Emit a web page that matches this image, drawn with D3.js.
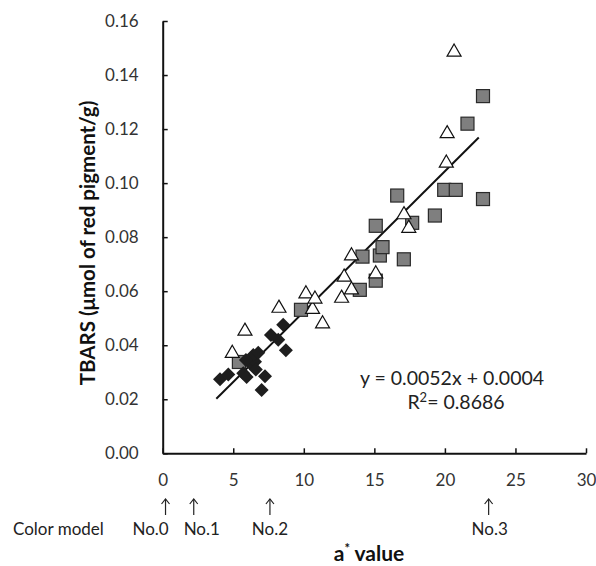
<!DOCTYPE html>
<html>
<head>
<meta charset="utf-8">
<script src="https://cdn.jsdelivr.net/npm/d3@7/dist/d3.min.js"></script>
<style>
  body { margin: 0; background: #fff; }
  svg text { font-family: Lato, "Open Sans", sans-serif; }
</style>
</head>
<body>
<script>
'use strict';

// diamonds (dark)
const diamondX = [4.06, 4.65, 5.71, 5.95, 6.18, 6.54, 6.42, 6.77, 7.25, 7.01, 7.67, 8.19, 8.54, 8.73, 5.9, 6.6];
const diamondY = [0.0274, 0.0292, 0.0296, 0.0282, 0.0333, 0.0339, 0.0364, 0.0372, 0.0285, 0.0234, 0.0438, 0.0420, 0.0476, 0.0381, 0.0345, 0.0310];

// open triangles
const triangleX = [4.93, 5.83, 8.24, 10.15, 10.62, 10.79, 11.33, 12.68, 12.86, 13.38, 13.38, 15.1, 17.1, 17.44, 20.1, 20.16, 20.65];
const triangleY = [0.0370, 0.0452, 0.0537, 0.0590, 0.0533, 0.0571, 0.0479, 0.0574, 0.0652, 0.0731, 0.0605, 0.0664, 0.0883, 0.0833, 0.1074, 0.1183, 0.1485];

// gray squares
const squareX = [5.4, 9.8, 13.97, 14.16, 15.1, 15.1, 15.39, 15.58, 16.62, 17.09, 17.68, 19.29, 19.95, 20.77, 21.6, 22.7, 22.7];
const squareY = [0.0338, 0.0531, 0.0605, 0.0728, 0.0639, 0.0842, 0.0732, 0.0763, 0.0954, 0.0718, 0.0853, 0.0880, 0.0975, 0.0975, 0.1220, 0.1322, 0.0941];

// linear trend line
const trendSlope = 0.0052;
const trendIntercept = 0.0004;
const trendRange = [3.8, 22.4];

const xTicks = [0, 5, 10, 15, 20, 25, 30];
const yTicks = [0, 0.02, 0.04, 0.06, 0.08, 0.10, 0.12, 0.14, 0.16];

// color model markers below the x axis
const modelNames = ["No.0", "No.1", "No.2", "No.3"];
const modelValues = [0.2, 2.2, 7.6, 23.1];
const modelLabelShift = [-15, 8, 0, 1]; // label nudge in px so they don't collide

const width = 596, height = 566;
const margin = { left: 162.7, right: 10, top: 21, bottom: 112.7 };

const svg = d3.select('body').append('svg')
    .attr('width', width)
    .attr('height', height);

const xScale = d3.scaleLinear()
    .domain([0, 30])
    .range([margin.left, width - margin.right]);

const yScale = d3.scaleLinear()
    .domain([0, 0.16])
    .range([height - margin.bottom, margin.top]);

// axes, ticks pointing inward
const xAxis = d3.axisBottom(xScale)
    .tickValues(xTicks)
    .tickSizeInner(-5)
    .tickSizeOuter(0)
    .tickPadding(21)
    .tickFormat(d3.format('d'));

const yAxis = d3.axisLeft(yScale)
    .tickValues(yTicks)
    .tickSizeInner(-5)
    .tickSizeOuter(0)
    .tickPadding(24)
    .tickFormat(d3.format('.2f'));

const gx = svg.append('g')
    .attr('transform', `translate(0, ${yScale(0)})`)
    .call(xAxis);

const gy = svg.append('g')
    .attr('transform', `translate(${xScale(0)}, 0)`)
    .call(yAxis);

[gx, gy].forEach(g => {
    g.select('.domain').attr('stroke', '#111').attr('stroke-width', 2);
    g.selectAll('.tick line').attr('stroke', '#111').attr('stroke-width', 1.5);
    g.selectAll('.tick text')
        .attr('fill', '#333')
        .style('font-size', '17px');
});

// trend line
svg.append('line')
    .attr('x1', xScale(trendRange[0]))
    .attr('y1', yScale(trendSlope * trendRange[0] + trendIntercept))
    .attr('x2', xScale(trendRange[1]))
    .attr('y2', yScale(trendSlope * trendRange[1] + trendIntercept))
    .attr('stroke', '#111')
    .attr('stroke-width', 2);

// squares
svg.selectAll('.sq')
    .data(d3.zip(squareX, squareY))
    .enter()
    .append('rect')
    .attr('class', 'sq')
    .attr('x', d => xScale(d[0]) - 6.5)
    .attr('y', d => yScale(d[1]) - 6.5)
    .attr('width', 13)
    .attr('height', 13)
    .attr('fill', '#7f7f7f')
    .attr('stroke', '#2a2a2a')
    .attr('stroke-width', 1.2);

// triangles
const triangle = d3.symbol().type(d3.symbolTriangle).size(85);
svg.selectAll('.tri')
    .data(d3.zip(triangleX, triangleY))
    .enter()
    .append('path')
    .attr('class', 'tri')
    .attr('d', triangle)
    .attr('transform', d => `translate(${xScale(d[0])}, ${yScale(d[1])})`)
    .attr('fill', '#fff')
    .attr('stroke', '#111')
    .attr('stroke-width', 1.2);

// diamonds
const diamond = d3.symbol().type(d3.symbolSquare).size(98);
svg.selectAll('.dia')
    .data(d3.zip(diamondX, diamondY))
    .enter()
    .append('path')
    .attr('class', 'dia')
    .attr('d', diamond)
    .attr('transform', d => `translate(${xScale(d[0])}, ${yScale(d[1])}) rotate(45)`)
    .attr('fill', '#1e1e1e');

// equation text
svg.append('text')
    .attr('x', 452)
    .attr('y', 385)
    .attr('text-anchor', 'middle')
    .attr('fill', '#222')
    .style('font-size', '19.5px')
    .text('y = 0.0052x + 0.0004');

const r2 = svg.append('text')
    .attr('x', 456)
    .attr('y', 409)
    .attr('text-anchor', 'middle')
    .attr('fill', '#222')
    .style('font-size', '19.5px');
r2.append('tspan').text('R');
r2.append('tspan').attr('dy', -7).style('font-size', '13px').text('2');
r2.append('tspan').attr('dy', 7).text('= 0.8686');

// color model arrows and labels
const model = svg.selectAll('.model')
    .data(d3.zip(modelNames, modelValues, modelLabelShift))
    .enter()
    .append('g')
    .attr('class', 'model')
    .attr('transform', d => `translate(${xScale(d[1])}, 0)`);

model.append('line')
    .attr('x1', 0).attr('x2', 0)
    .attr('y1', 499).attr('y2', 515)
    .attr('stroke', '#222')
    .attr('stroke-width', 1.2);

model.append('path')
    .attr('d', 'M-4,504 L0,499 L4,504')
    .attr('fill', 'none')
    .attr('stroke', '#222')
    .attr('stroke-width', 1.2);

model.append('text')
    .attr('x', d => d[2])
    .attr('y', 535)
    .attr('text-anchor', 'middle')
    .attr('fill', '#222')
    .style('font-size', '17px')
    .text(d => d[0]);

svg.append('text')
    .attr('x', 13)
    .attr('y', 535)
    .attr('fill', '#222')
    .style('font-size', '17px')
    .text('Color model');

// axis titles
const xt = svg.append('text')
    .attr('x', 369)
    .attr('y', 561)
    .attr('text-anchor', 'middle')
    .attr('fill', '#111')
    .style('font-size', '21px')
    .style('font-weight', 'bold');
xt.append('tspan').text('a');
xt.append('tspan').attr('dy', -8).style('font-size', '13px').text('*');
xt.append('tspan').attr('dy', 8).text(' value');

svg.append('text')
    .attr('transform', 'translate(95, 243) rotate(-90)')
    .attr('text-anchor', 'middle')
    .attr('fill', '#111')
    .style('font-size', '20.5px')
    .style('font-weight', 'bold')
    .text('TBARS (\u03bcmol of red pigment/g)');
</script>
</body>
</html>
